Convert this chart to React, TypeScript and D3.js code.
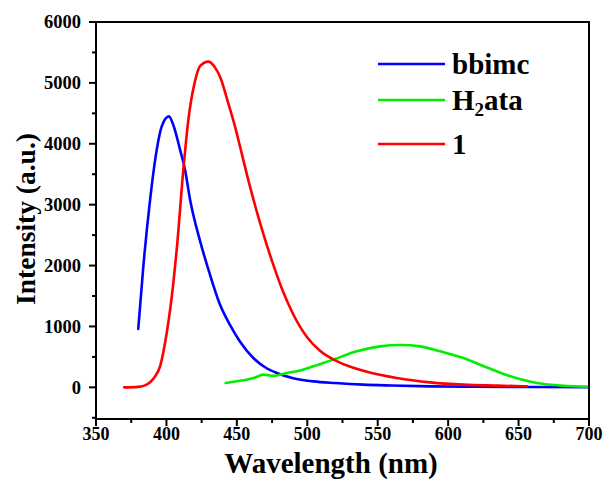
import React from "react";
import * as d3 from "d3";

const bbimcX = [380, 383.6, 388.4, 393.1, 396.6, 401.8, 405, 409.7, 413.2, 416.8, 423.9, 430, 438, 445, 452.3, 461.7, 470, 478.3, 490, 504.3, 520, 539.8, 560, 587.2, 620, 660, 700];
const bbimcY = [958, 1985, 3080, 3900, 4282, 4450, 4300, 3900, 3572, 3080, 2400, 1920, 1360, 1030, 750, 482, 330, 236, 150, 98, 70, 44, 30, 16, 10, 6, 4];

const h2ataX = [442, 450, 457, 463, 468.8, 475.9, 485.4, 492.5, 504.3, 519.7, 535.1, 551.7, 565.9, 580.1, 594.3, 610.9, 622.7, 639.3, 650, 663, 680, 698.5, 700];
const h2ataY = [72, 100, 126, 160, 208, 190, 236, 263, 345, 466, 591, 673, 695, 673, 591, 482, 372, 220, 140, 72, 30, 6, 4];

const complexX = [370, 380, 386, 391, 395.5, 400.2, 404.9, 407.3, 412, 415.6, 420, 424, 429.7, 434, 438, 443.9, 448.7, 453.4, 458.1, 462.9, 468.8, 475.9, 483, 490, 499.6, 509, 520.9, 532.7, 545, 563.5, 587.2, 610.9, 635, 655.9];
const complexY = [0, 8, 44, 150, 345, 892, 1713, 2260, 3572, 4400, 5000, 5280, 5350, 5270, 5103, 4666, 4282, 3846, 3408, 2990, 2520, 2010, 1560, 1200, 830, 600, 430, 320, 240, 154, 82, 44, 28, 16];

const seriesNames = ["bbimc", "H2ata", "1"];
const seriesColors = ["#0000ff", "#00ee00", "#ff0000"];

const xTicks = [350, 400, 450, 500, 550, 600, 650, 700];
const yTicks = [0, 1000, 2000, 3000, 4000, 5000, 6000];

const W = 605;
const H = 482;
const left = 96;
const right = 589;
const top = 22;
const bottom = 419;

export default function App() {
  const x = d3.scaleLinear().domain([350, 700]).range([left, right]);
  const y = d3.scaleLinear().domain([-520, 6000]).range([bottom, top]);
  const line = d3
    .line<[number, number]>()
    .x((d) => x(d[0]))
    .y((d) => y(d[1]))
    .curve(d3.curveMonotoneX);

  const series = [
    bbimcX.map((v, i) => [v, bbimcY[i]] as [number, number]),
    h2ataX.map((v, i) => [v, h2ataY[i]] as [number, number]),
    complexX.map((v, i) => [v, complexY[i]] as [number, number]),
  ];

  const xMinor = d3.range(375, 700, 50);
  const yMinor = [-500, 500, 1500, 2500, 3500, 4500, 5500];

  const font = "'Liberation Serif', 'Times New Roman', serif";
  const legendY = [64, 100, 144];

  return (
    <svg width={W} height={H} style={{ position: "absolute", left: 0, top: 0, background: "#fff" }} fontFamily={font} fontWeight="bold">
      <rect x={0} y={0} width={W} height={H} fill="#fff" />
      <defs>
        <clipPath id="clip">
          <rect x={left} y={top} width={right - left} height={bottom - top} />
        </clipPath>
      </defs>
      <g clipPath="url(#clip)">
        {series.map((s, i) => (
          <path key={i} d={line(s) || ""} fill="none" stroke={seriesColors[i]} strokeWidth={2.6} strokeLinejoin="round" strokeLinecap="round" />
        ))}
      </g>
      <rect x={left} y={top} width={right - left} height={bottom - top} fill="none" stroke="#000" strokeWidth={2} />
      {xTicks.map((t) => (
        <g key={"x" + t}>
          <line x1={x(t)} x2={x(t)} y1={bottom} y2={bottom + 7} stroke="#000" strokeWidth={2} />
          <text x={x(t)} y={440} textAnchor="middle" fontSize={18}>{t}</text>
        </g>
      ))}
      {xMinor.map((t) => (
        <line key={"xm" + t} x1={x(t)} x2={x(t)} y1={bottom} y2={bottom + 4} stroke="#000" strokeWidth={2} />
      ))}
      {yTicks.map((t) => (
        <g key={"y" + t}>
          <line x1={left} x2={left - 7} y1={y(t)} y2={y(t)} stroke="#000" strokeWidth={2} />
          <text x={81} y={y(t)} dy="0.35em" textAnchor="end" fontSize={18.5}>{t}</text>
        </g>
      ))}
      {yMinor.map((t) => (
        <line key={"ym" + t} x1={left} x2={left - 4} y1={y(t)} y2={y(t)} stroke="#000" strokeWidth={2} />
      ))}
      <text x={331} y={473} textAnchor="middle" fontSize={29}>Wavelength (nm)</text>
      <text transform={`translate(35, 219) rotate(-90)`} textAnchor="middle" fontSize={27.5}>Intensity (a.u.)</text>
      {seriesNames.map((n, i) => (
        <g key={n}>
          <line x1={378} x2={445} y1={legendY[i]} y2={legendY[i]} stroke={seriesColors[i]} strokeWidth={2.6} />
          <text x={452} y={legendY[i]} dy="0.33em" fontSize={29}>
            {n === "H2ata" ? (
              <>
                <tspan>H</tspan>
                <tspan fontSize={19} dy="6">2</tspan>
                <tspan dy="-6">ata</tspan>
              </>
            ) : (
              n
            )}
          </text>
        </g>
      ))}
    </svg>
  );
}
